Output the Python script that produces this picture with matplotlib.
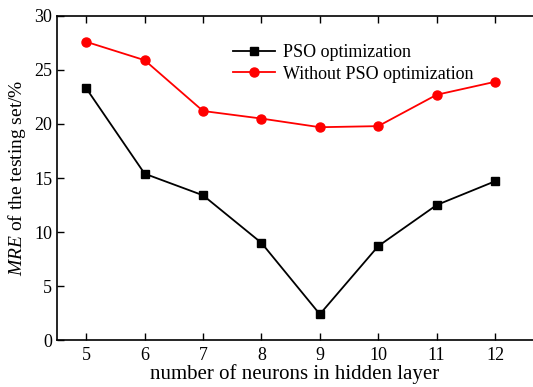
import matplotlib
matplotlib.use('Agg')
import matplotlib.pyplot as plt

plt.rcParams['font.family'] = 'Liberation Serif'
plt.rcParams['mathtext.fontset'] = 'custom'
plt.rcParams['mathtext.rm'] = 'Liberation Serif'
plt.rcParams['mathtext.it'] = 'Liberation Serif:italic'

#data
neurons = [5, 6, 7, 8, 9, 10, 11, 12]
mre_pso = [23.3, 15.4, 13.4, 9.0, 2.4, 8.7, 12.5, 14.7]
mre_no_pso = [27.6, 25.9, 21.2, 20.5, 19.7, 19.8, 22.7, 23.9]

fig = plt.figure(figsize=(5.33, 3.87), dpi=100)
ax = fig.add_axes([0.107, 0.121, 0.893, 0.838])

ax.plot(neurons, mre_pso, 'k-', marker='s', markersize=6, linewidth=1.3, label='PSO optimization')
ax.plot(neurons, mre_no_pso, '-', color='red', marker='o', markersize=6.5, linewidth=1.3,
        label='Without PSO optimization')

ax.set_xlim(4.5, 12.65)
ax.set_ylim(0, 30)
ax.set_xticks(neurons)
ax.set_yticks([0, 5, 10, 15, 20, 25, 30])
ax.tick_params(direction='in', top=True, right=False, labelsize=13, length=5, width=1)
ax.tick_params(axis='x', pad=5)
ax.spines['right'].set_visible(False)
for s in ['left', 'bottom', 'top']:
    ax.spines[s].set_linewidth(1.2)

ax.set_xlabel('number of neurons in hidden layer', fontsize=15, labelpad=0)
ax.set_ylabel('$\\mathit{MRE}$ of the testing set/%', fontsize=14, labelpad=4)

ax.legend(loc='upper left', bbox_to_anchor=(0.355, 0.935), frameon=False, fontsize=13,
          handlelength=2.3, handletextpad=0.45, labelspacing=0.25, borderaxespad=0)

fig.savefig('out.png', dpi=100)
